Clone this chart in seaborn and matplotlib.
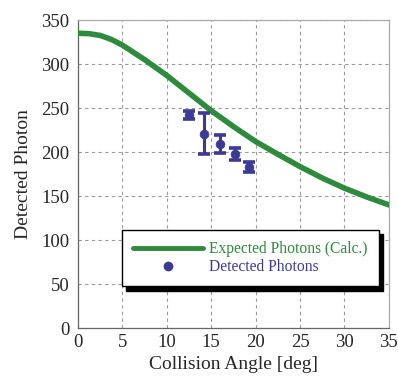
import matplotlib
matplotlib.use("Agg")
import matplotlib.pyplot as plt
import seaborn as sns
import pandas as pd
from matplotlib.lines import Line2D

# Expected photons curve
calc_angle = [0, 1.25, 2.5, 3.75, 5, 7.5, 10, 12.5, 15, 17.5, 20, 22.5, 25, 27.5, 30, 32.5, 35]
calc_photons = [335, 334.5, 332.5, 328, 321.5, 305, 287, 267, 247, 229, 212, 197.5, 183.5, 170.5, 159, 149, 140]

# Detected photons with error bars
det_angle = [12.5, 14.15, 16.0, 17.65, 19.2]
det_photons = [242, 221, 209, 198, 183]
det_err = [5, 23, 10, 7, 5.5]

x_ticks = [0, 5, 10, 15, 20, 25, 30, 35]
y_ticks = [0, 50, 100, 150, 200, 250, 300, 350]

green = "#2e8b3c"
blue = "#3b3b96"

sns.set_style("white")
plt.rcParams["font.family"] = ["Liberation Serif", "DejaVu Serif"]

fig = plt.figure(figsize=(3.98, 3.78), dpi=100)
ax = fig.add_axes([0.196, 0.132, 0.781, 0.815])

calc_df = pd.DataFrame({"angle": calc_angle, "photons": calc_photons})
det_df = pd.DataFrame({"angle": det_angle, "photons": det_photons})

sns.lineplot(data=calc_df, x="angle", y="photons", ax=ax, color=green,
             linewidth=4, zorder=3)
ax.errorbar(det_angle, det_photons, yerr=det_err, fmt="none", ecolor=blue,
            elinewidth=2.2, capsize=4, capthick=2.6, zorder=4)
sns.scatterplot(data=det_df, x="angle", y="photons", ax=ax, color=blue,
                s=40, edgecolor=blue, zorder=5)

ax.set_xlim(0, 35)
ax.set_ylim(0, 350)
ax.set_xticks(x_ticks)
ax.set_yticks(y_ticks)
ax.tick_params(labelsize=13.5, length=0)
ax.tick_params(axis="y", pad=6)
ax.tick_params(axis="x", pad=4)
ax.set_xlabel("Collision Angle [deg]", fontsize=14, labelpad=4)
ax.set_ylabel("Detected Photon", fontsize=14, labelpad=7)

ax.grid(True, color="#999999", linestyle=(0, (3, 3)), linewidth=0.8)
for s in ["left", "bottom"]:
    ax.spines[s].set_color("#666666")
    ax.spines[s].set_linewidth(0.9)
for s in ["top", "right"]:
    ax.spines[s].set_color("#aaaaaa")
    ax.spines[s].set_linewidth(0.9)

handles = [
    Line2D([0], [0], color=green, linewidth=3.5),
    Line2D([0], [0], color=blue, marker="o", linestyle="none", markersize=6),
]
labels = ["Expected Photons (Calc.)", "Detected Photons"]
leg = ax.legend(handles, labels, loc="upper left",
                bbox_to_anchor=(0.141, 0.318), borderaxespad=0,
                fontsize=11.2, frameon=True, fancybox=False, handlelength=4.5,
                borderpad=0.72, labelspacing=0.12, handletextpad=0.4,
                shadow={"color": "black", "alpha": 1, "ox": 3, "oy": -3})
leg.get_frame().set_edgecolor("black")
leg.get_frame().set_linewidth(1.0)
leg.get_texts()[0].set_color(green)
leg.get_texts()[1].set_color(blue)

fig.savefig("out.png", dpi=100)
